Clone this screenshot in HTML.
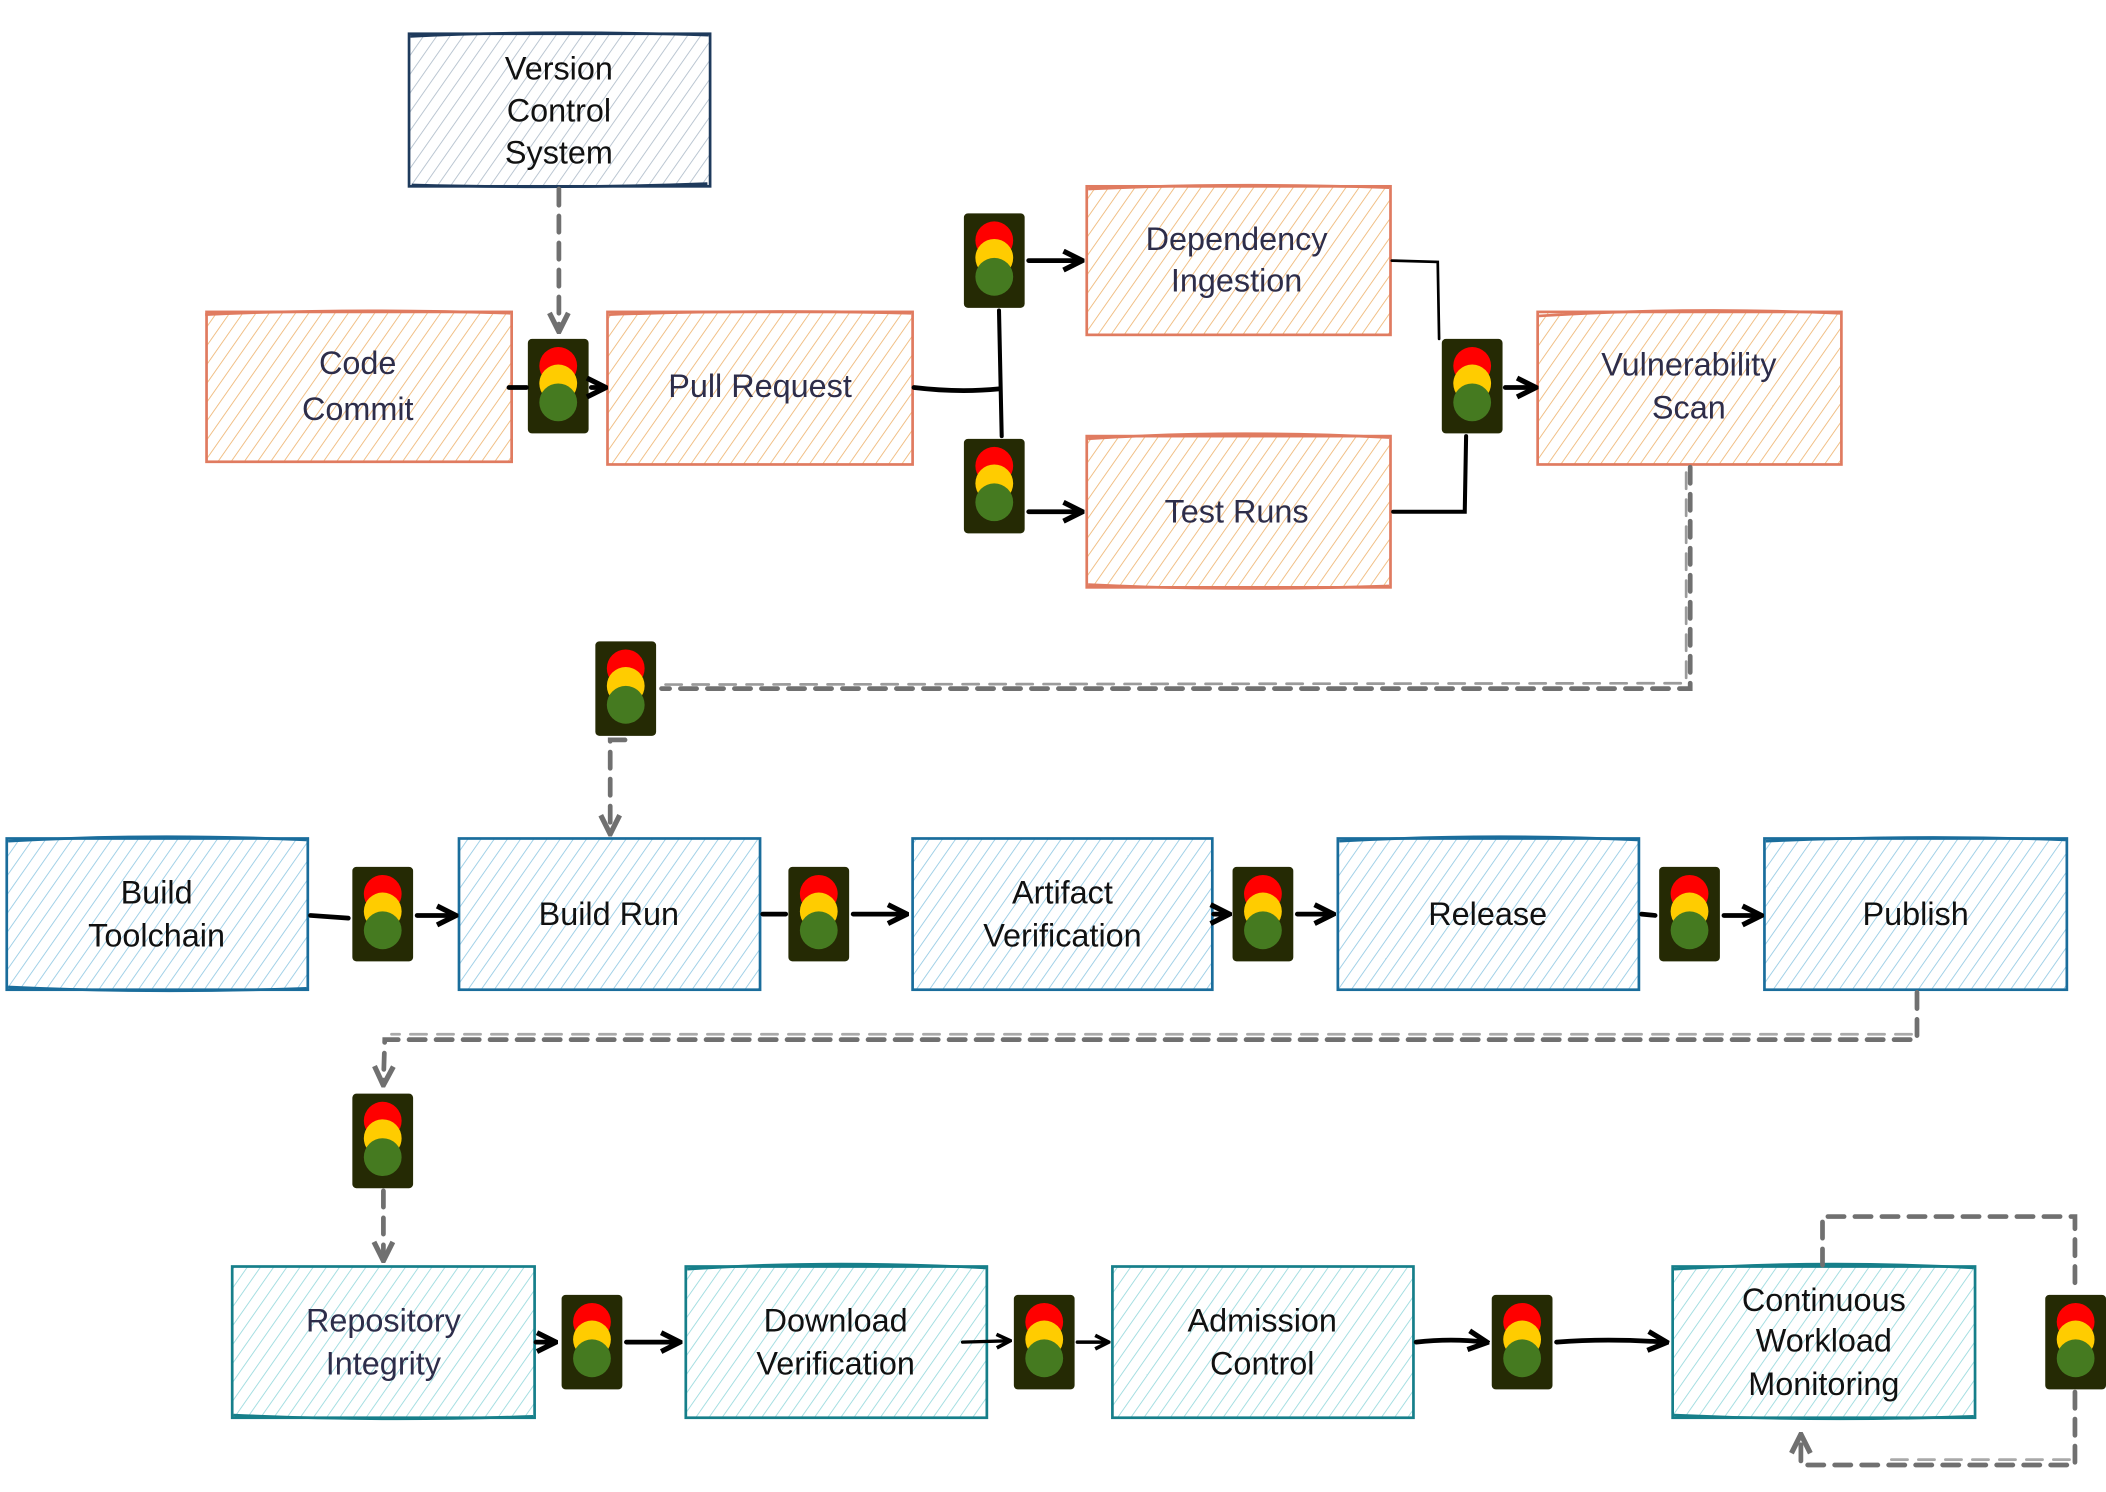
<!DOCTYPE html>
<html><head><meta charset="utf-8">
<style>
html,body{margin:0;padding:0;background:#fff;}
svg{display:block;}
text{font-family:"Liberation Sans",sans-serif;font-size:24px;text-anchor:middle;}
</style></head>
<body>
<svg width="2106" height="1492" viewBox="0 0 1560 1105" preserveAspectRatio="none" xmlns="http://www.w3.org/2000/svg">
<defs>
<pattern id="hO" width="8" height="8" patternUnits="userSpaceOnUse" patternTransform="rotate(35)"><line x1="0" y1="0" x2="0" y2="8" stroke="#efb878" stroke-width="1.3"/></pattern>
<pattern id="hG" width="8" height="8" patternUnits="userSpaceOnUse" patternTransform="rotate(35)"><line x1="0" y1="0" x2="0" y2="8" stroke="#b2bfcc" stroke-width="1.3"/></pattern>
<pattern id="hB" width="8" height="8" patternUnits="userSpaceOnUse" patternTransform="rotate(35)"><line x1="0" y1="0" x2="0" y2="8" stroke="#96cbe4" stroke-width="1.3"/></pattern>
<pattern id="hT" width="8" height="8" patternUnits="userSpaceOnUse" patternTransform="rotate(35)"><line x1="0" y1="0" x2="0" y2="8" stroke="#9adade" stroke-width="1.3"/></pattern>
<marker id="ab" viewBox="0 0 10 10" refX="8" refY="5" markerWidth="5" markerHeight="5" orient="auto"><path d="M1,1 L9,5 L1,9" fill="none" stroke="#000" stroke-width="2.2"/></marker>
<marker id="ag" viewBox="0 0 10 10" refX="8" refY="5" markerWidth="5" markerHeight="5" orient="auto"><path d="M1,1 L9,5 L1,9" fill="none" stroke="#707070" stroke-width="2.2"/></marker>
<g id="tl"><rect x="0" y="0" width="45" height="70" rx="3" fill="#252a04"/><circle cx="22.5" cy="20" r="14" fill="#ff0000"/><circle cx="22.5" cy="33" r="14" fill="#ffcc00"/><circle cx="22.5" cy="47" r="14" fill="#457a20"/></g>
</defs>

<g stroke-width="2" >
<rect x="303" y="25" width="223" height="113" fill="url(#hG)" stroke="#1e3a5c"/>
<path d="M304,27 Q400,22 525,26 M305,137 Q420,140 524,136" fill="none" stroke="#1e3a5c"/>
<g fill="url(#hO)" stroke="#e07b60">
<rect x="153" y="231" width="226" height="111"/>
<rect x="450" y="231" width="226" height="113"/>
<rect x="805" y="138" width="225" height="110"/>
<rect x="805" y="323" width="225" height="112"/>
<rect x="1139" y="231" width="225" height="113"/>
</g>
<path d="M152,233 Q260,228 378,232 M451,233 Q560,229 675,232 M806,140 Q910,135 1029,139 M806,325 Q910,318 1029,324 M806,433 Q910,438 1029,434 M1140,234 Q1250,227 1363,232" fill="none" stroke="#e07b60"/>
<g fill="url(#hB)" stroke="#1a6d9c">
<rect x="5" y="621" width="223" height="112"/>
<rect x="340" y="621" width="223" height="112"/>
<rect x="676" y="621" width="222" height="112"/>
<rect x="991" y="621" width="223" height="112"/>
<rect x="1307" y="621" width="224" height="112"/>
</g>
<path d="M6,623 Q110,617 227,622 M6,731 Q110,736 227,732 M992,623 Q1100,617 1213,622 M1308,623 Q1420,618 1530,622" fill="none" stroke="#1a6d9c"/>
<g fill="url(#hT)" stroke="#167f8a">
<rect x="172" y="938" width="224" height="112"/>
<rect x="508" y="938" width="223" height="112"/>
<rect x="824" y="938" width="223" height="112"/>
<rect x="1239" y="938" width="224" height="112"/>
</g>
<path d="M509,940 Q610,933 730,939 M173,1048 Q280,1053 395,1049 M1240,940 Q1350,933 1462,939 M1240,1048 Q1350,1053 1462,1049" fill="none" stroke="#167f8a"/>
</g>

<g fill="#2d2d4a">
<text x="414" y="59" fill="#111">Version</text>
<text x="414" y="90" fill="#111">Control</text>
<text x="414" y="121" fill="#111">System</text>
<text x="265" y="277" font-size="26">Code</text>
<text x="265" y="311" font-size="26">Commit</text>
<text x="563" y="294">Pull Request</text>
<text x="916" y="185">Dependency</text>
<text x="916" y="216">Ingestion</text>
<text x="916" y="387">Test Runs</text>
<text x="1251" y="278">Vulnerability</text>
<text x="1251" y="310">Scan</text>
<g fill="#111">
<text x="116" y="669">Build</text>
<text x="116" y="701">Toolchain</text>
<text x="451" y="685">Build Run</text>
<text x="787" y="669">Artifact</text>
<text x="787" y="701">Verification</text>
<text x="1102" y="685">Release</text>
<text x="1419" y="685">Publish</text>
<text x="619" y="986">Download</text>
<text x="619" y="1018">Verification</text>
<text x="935" y="986">Admission</text>
<text x="935" y="1018">Control</text>
<text x="1351" y="971">Continuous</text>
<text x="1351" y="1001">Workload</text>
<text x="1351" y="1033">Monitoring</text>
</g>
<text x="284" y="986">Repository</text>
<text x="284" y="1018">Integrity</text>
</g>

<use href="#tl" x="391" y="251"/>
<use href="#tl" x="714" y="158"/>
<use href="#tl" x="714" y="325"/>
<use href="#tl" x="1068" y="251"/>
<use href="#tl" x="441" y="475"/>
<use href="#tl" x="261" y="642"/>
<use href="#tl" x="584" y="642"/>
<use href="#tl" x="913" y="642"/>
<use href="#tl" x="1229" y="642"/>
<use href="#tl" x="261" y="810"/>
<use href="#tl" x="416" y="959"/>
<use href="#tl" x="751" y="959"/>
<use href="#tl" x="1105" y="959"/>
<use href="#tl" x="1515" y="959"/>

<g fill="none" stroke="#000" stroke-width="3.5" stroke-linecap="round">
<path d="M377,287 L390,287"/>
<path d="M438,287 L447,287" marker-end="url(#ab)"/>
<path d="M677,287 Q710,291 740,288"/>
<path d="M740,230 L742,323" stroke-width="3"/>
<path d="M762,193 L800,193" marker-end="url(#ab)"/>
<path d="M762,379 L800,379" marker-end="url(#ab)"/>
<path d="M1031,193 L1065,194 L1066,251" stroke-width="2"/>
<path d="M1032,379 L1085,379 L1086,323" stroke-width="3"/>
<path d="M1115,287 L1136,287" marker-end="url(#ab)"/>
<path d="M230,678 L258,680"/>
<path d="M309,678 L336,678" marker-end="url(#ab)"/>
<path d="M565,677 L582,677"/>
<path d="M632,677 L670,677" marker-end="url(#ab)"/>
<path d="M899,677 L909,677" marker-end="url(#ab)"/>
<path d="M961,677 L986,677" marker-end="url(#ab)"/>
<path d="M1216,677 L1226,678"/>
<path d="M1277,678 L1303,678" marker-end="url(#ab)"/>
<path d="M397,994 L410,994" marker-end="url(#ab)"/>
<path d="M464,994 L502,994" marker-end="url(#ab)"/>
<path d="M713,994 L747,993" marker-end="url(#ab)" stroke-width="2.5"/>
<path d="M798,994 L820,994" marker-end="url(#ab)" stroke-width="2.5"/>
<path d="M1049,994 Q1075,991 1100,994" marker-end="url(#ab)"/>
<path d="M1153,994 Q1190,991 1233,994" marker-end="url(#ab)"/>
</g>

<g fill="none" stroke="#707070" stroke-width="3.5" stroke-dasharray="12,8" stroke-linecap="round">
<path d="M414,140 L414,244" marker-end="url(#ag)"/>
<path d="M1252,346 L1252,510 L490,510"/>
<path d="M1249,350 L1249,506 L490,507" stroke-width="2" opacity="0.7"/>
<path d="M463,548 L452,548 L452,616" marker-end="url(#ag)"/>
<path d="M1420,735 L1420,770 L285,770 L284,802" marker-end="url(#ag)"/>
<path d="M1416,766 L290,766" stroke-width="2" opacity="0.6"/>
<path d="M284,882 L284,932" marker-end="url(#ag)"/>
<path d="M1350,937 L1350,901 L1537,901 L1537,957"/>
<path d="M1537,1031 L1537,1085 L1334,1085 L1334,1064" marker-end="url(#ag)"/>
<path d="M1533,1081 L1400,1081" stroke-width="2" opacity="0.6"/>
</g>
</svg>
</body></html>
